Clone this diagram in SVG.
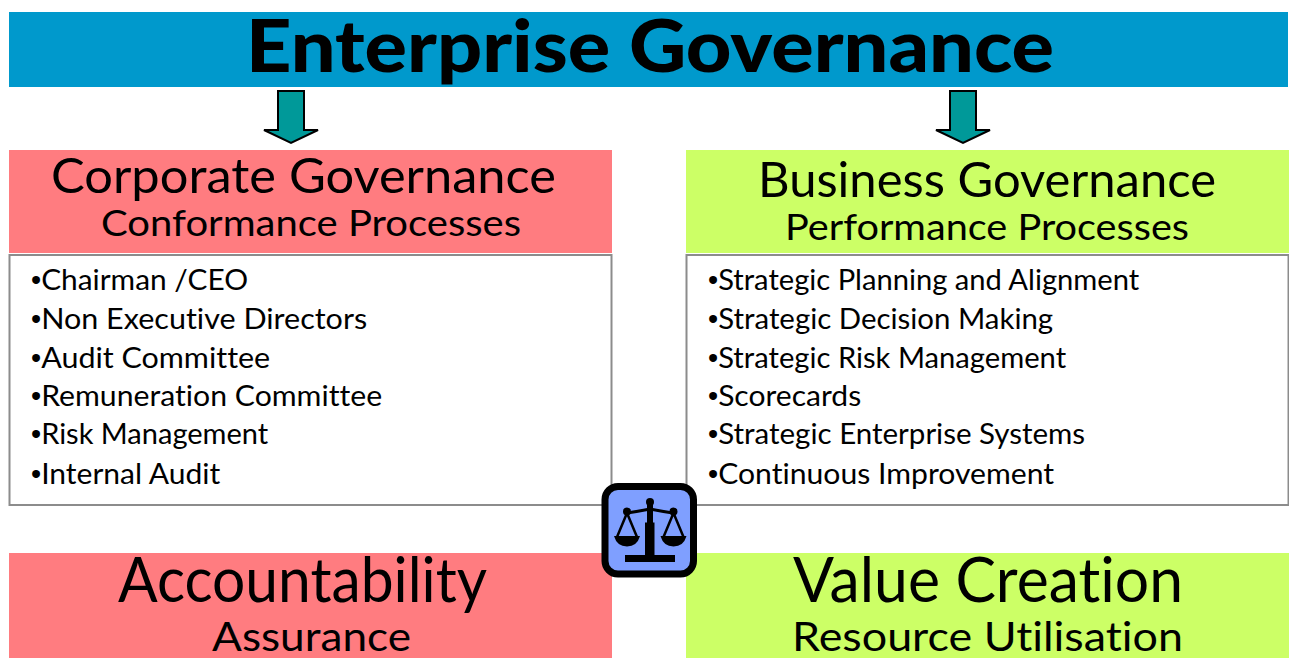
<svg xmlns="http://www.w3.org/2000/svg" width="1289" height="658" viewBox="0 0 1289 658">
<style>
text{font-family:"Lato","Noto Sans","Liberation Sans",sans-serif;fill:#000;font-variant-ligatures:none}
.t{font-weight:900;font-size:73px}
.h{font-size:48px}
.s{font-size:37px}
.b{font-size:62px}
.a{font-size:41px}
.l{font-size:29px}
.d{font-family:"Liberation Sans",sans-serif}
.red{fill:#FF7C80}.grn{fill:#CCFF66}
.box{fill:#fff;stroke:#8c8c8c;stroke-width:2}
.arr{fill:#009999;stroke:#000;stroke-width:2}
</style>
<rect width="1289" height="658" fill="#fff"/>
<g id="enterprise"><rect x="9" y="12" width="1279" height="75" fill="#0099CC"/>
<text class="t" x="246" y="72" textLength="808" lengthAdjust="spacingAndGlyphs">Enterprise Governance</text></g>
<g id="connectors">
<path id="arrow-left" class="arr" d="M278 91H304V130H318L291 143L264 130H278Z"/>
<path id="arrow-right" class="arr" d="M950 91H976V130H990L963 143L936 130H950Z"/>
</g>
<g id="corporate"><rect class="red" x="9" y="150" width="603" height="103"/>
<text class="h" x="51" y="193" textLength="505" lengthAdjust="spacingAndGlyphs">Corporate Governance</text>
<text class="s" x="101" y="236" textLength="420" lengthAdjust="spacingAndGlyphs">Conformance Processes</text></g>
<g id="business"><rect class="grn" x="686" y="150" width="603" height="103"/>
<text class="h" x="758" y="197" textLength="458" lengthAdjust="spacingAndGlyphs">Business Governance</text>
<text class="s" x="785" y="240" textLength="404" lengthAdjust="spacingAndGlyphs">Performance Processes</text></g>
<g id="corporate-list"><rect class="box" x="9.500" y="255" width="602" height="250"/>
<text class="l" x="31" y="290"><tspan class="d">•</tspan><tspan textLength="207" lengthAdjust="spacingAndGlyphs">Chairman /CEO</tspan></text>
<text class="l" x="31" y="329"><tspan class="d">•</tspan><tspan textLength="326" lengthAdjust="spacingAndGlyphs">Non Executive Directors</tspan></text>
<text class="l" x="31" y="368"><tspan class="d">•</tspan><tspan textLength="229" lengthAdjust="spacingAndGlyphs">Audit Committee</tspan></text>
<text class="l" x="31" y="406"><tspan class="d">•</tspan><tspan textLength="341" lengthAdjust="spacingAndGlyphs">Remuneration Committee</tspan></text>
<text class="l" x="31" y="444"><tspan class="d">•</tspan><tspan textLength="227" lengthAdjust="spacingAndGlyphs">Risk Management</tspan></text>
<text class="l" x="31" y="484"><tspan class="d">•</tspan><tspan textLength="179" lengthAdjust="spacingAndGlyphs">Internal Audit</tspan></text></g>
<g id="business-list"><rect class="box" x="686.500" y="255" width="602" height="250"/>
<text class="l" x="708" y="290"><tspan class="d">•</tspan><tspan textLength="421" lengthAdjust="spacingAndGlyphs">Strategic Planning and Alignment</tspan></text>
<text class="l" x="708" y="329"><tspan class="d">•</tspan><tspan textLength="335" lengthAdjust="spacingAndGlyphs">Strategic Decision Making</tspan></text>
<text class="l" x="708" y="368"><tspan class="d">•</tspan><tspan textLength="348" lengthAdjust="spacingAndGlyphs">Strategic Risk Management</tspan></text>
<text class="l" x="708" y="406"><tspan class="d">•</tspan><tspan textLength="143" lengthAdjust="spacingAndGlyphs">Scorecards</tspan></text>
<text class="l" x="708" y="444"><tspan class="d">•</tspan><tspan textLength="367" lengthAdjust="spacingAndGlyphs">Strategic Enterprise Systems</tspan></text>
<text class="l" x="708" y="484"><tspan class="d">•</tspan><tspan textLength="336" lengthAdjust="spacingAndGlyphs">Continuous Improvement</tspan></text></g>
<g id="accountability"><rect class="red" x="9" y="553" width="603" height="105"/>
<text class="b" x="118" y="602" textLength="369" lengthAdjust="spacingAndGlyphs">Accountability</text>
<text class="a" x="212" y="651" textLength="199" lengthAdjust="spacingAndGlyphs">Assurance</text></g>
<g id="value"><rect class="grn" x="686" y="553" width="603" height="105"/>
<text class="b" x="793" y="602" textLength="390" lengthAdjust="spacingAndGlyphs">Value Creation</text>
<text class="a" x="792" y="651" textLength="391" lengthAdjust="spacingAndGlyphs">Resource Utilisation</text></g>
<g id="scales">
<rect x="605" y="486.500" width="88.500" height="87.500" rx="13" fill="#7F9FFF" stroke="#000" stroke-width="7"/>
<circle cx="650" cy="502" r="4" fill="#000"/>
<circle cx="627" cy="511.500" r="4" fill="#000"/>
<circle cx="673.500" cy="511.500" r="4" fill="#000"/>
<path d="M627 513Q640 511 650 509Q660 511 673 513" fill="none" stroke="#000" stroke-width="3"/>
<rect x="647" y="503" width="6" height="21" fill="#000"/>
<rect x="645" y="522.500" width="9.500" height="35" fill="#000"/>
<rect x="625" y="555" width="50" height="7" fill="#000"/>
<path d="M627 513L617 537M627 513L637 537M673.500 513L663.500 537M673.500 513L683.500 537" fill="none" stroke="#000" stroke-width="2.500"/>
<path d="M614 536H640Q637 546.500 627 546.500Q617 546.500 614 536Z" fill="#000"/>
<path d="M660.500 536H686.500Q683.500 546.500 673.500 546.500Q663.500 546.500 660.500 536Z" fill="#000"/>
</g>
</svg>
